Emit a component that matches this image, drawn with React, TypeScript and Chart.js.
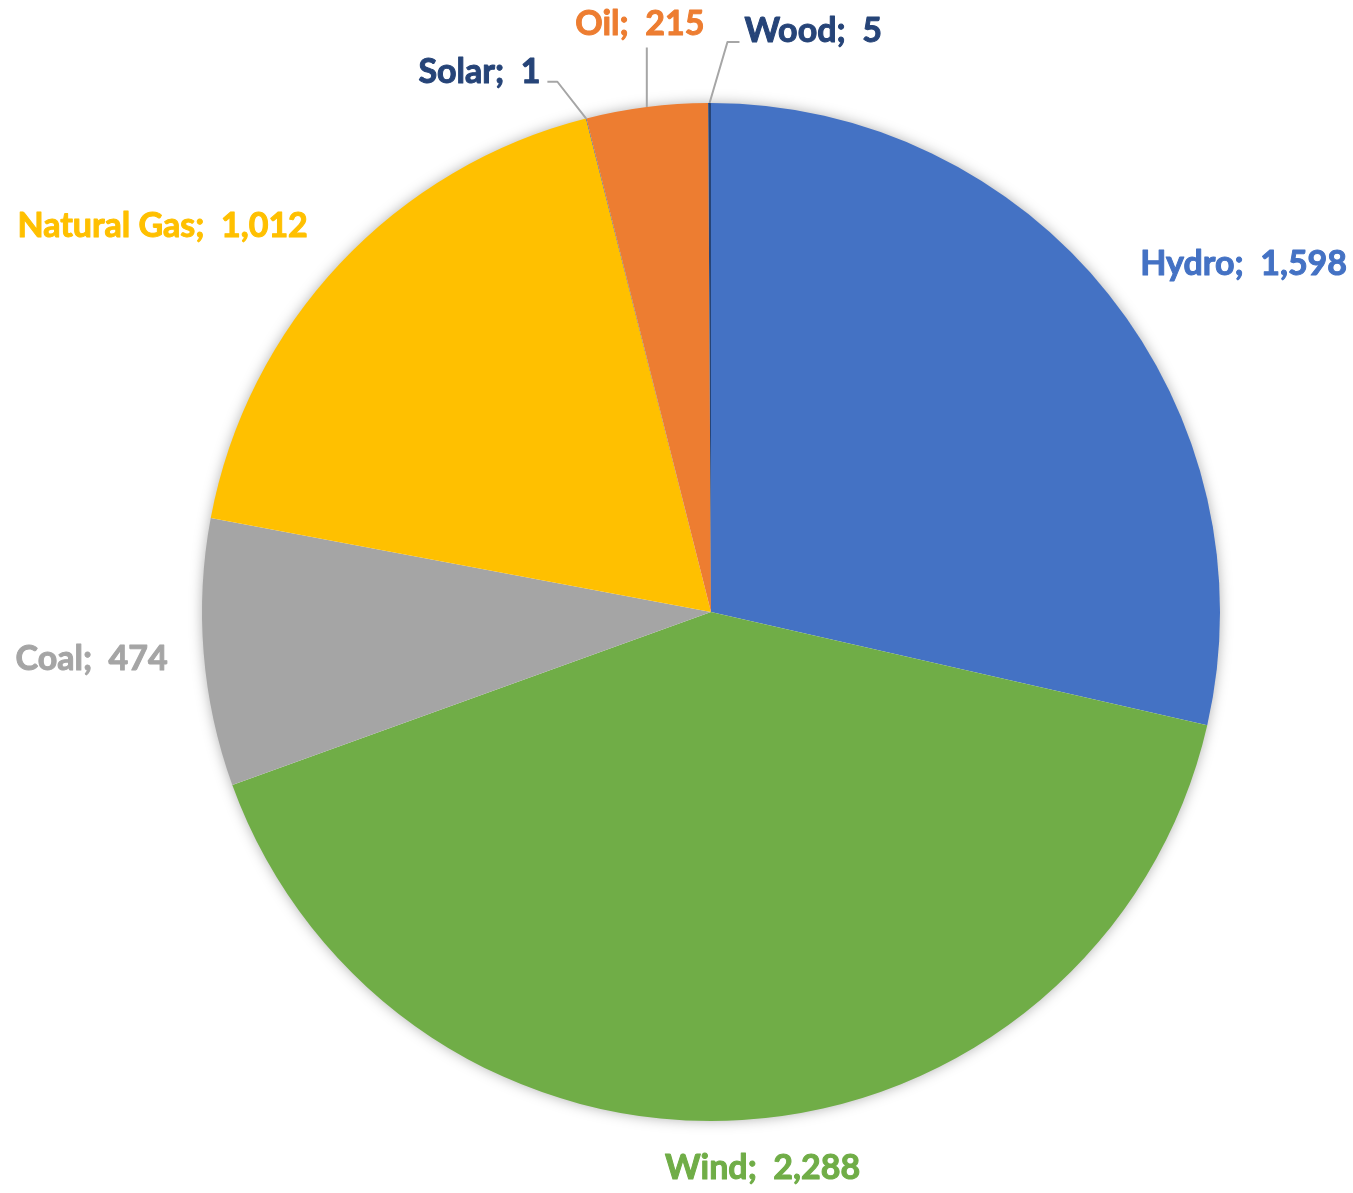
import React, { useEffect, useRef } from "react";
import { Chart, registerables } from "chart.js";

Chart.register(...registerables);

const categories = ["Hydro", "Wind", "Coal", "Natural Gas", "Solar", "Oil", "Wood"];
const values = [1598, 2288, 474, 1012, 1, 215, 5];
const sliceColors = ["#4472C4", "#70AD47", "#A5A5A5", "#FFC000", "#264478", "#ED7D31", "#264478"];
const labelColors = ["#4472C4", "#70AD47", "#A5A5A5", "#FFC000", "#264478", "#ED7D31", "#264478"];

// label placement (style): offset from point at (radius + gap) along slice mid-angle
const labelGap = 40;
const labelOffsets = [
  [0, -6],
  [18, 8],
  [4, 3],
  [-3, -10],
  [-36, -8],
  [-2, -43],
  [35, -32],
];
const labelAligns = ["left", "center", "right", "right", "right", "center", "left"];
// leader lines: [endDx, endDy, elbowDx] relative to label anchor
const leaders = [null, null, null, null, [7, 10, 10], [7, 23, 0], [-5, 11, -12]];

const W = 1353;
const H = 1193;
const FONT = "bold 34px Lato, 'Open Sans', sans-serif";

const shadowPlugin = {
  id: "pieShadow",
  beforeDatasetsDraw(chart: any) {
    const meta = chart.getDatasetMeta(0);
    const arc = meta.data[0];
    if (!arc) return;
    const { x, y, outerRadius } = arc.getProps(["x", "y", "outerRadius"], true);
    const ctx = chart.ctx;
    ctx.save();
    ctx.shadowColor = "rgba(0,0,0,0.35)";
    ctx.shadowBlur = 14;
    ctx.fillStyle = "#ffffff";
    ctx.beginPath();
    ctx.arc(x, y, outerRadius - 1, 0, Math.PI * 2);
    ctx.fill();
    ctx.restore();
  },
};

const labelPlugin = {
  id: "outsideLabels",
  afterDatasetsDraw(chart: any) {
    const meta = chart.getDatasetMeta(0);
    const ctx = chart.ctx;
    ctx.save();
    ctx.font = FONT;
    ctx.textBaseline = "middle";
    meta.data.forEach((arc: any, i: number) => {
      const { x, y, startAngle, endAngle, outerRadius } = arc.getProps(
        ["x", "y", "startAngle", "endAngle", "outerRadius"],
        true
      );
      const mid = (startAngle + endAngle) / 2;
      const c = Math.cos(mid);
      const s = Math.sin(mid);
      const px = x + c * (outerRadius + labelGap);
      const py = y + s * (outerRadius + labelGap);
      const lx = px + labelOffsets[i][0];
      const ly = py + labelOffsets[i][1];
      const ld = leaders[i];
      if (ld) {
        const ex = x + c * outerRadius;
        const ey = y + s * outerRadius;
        const endX = lx + ld[0];
        const endY = ly + ld[1];
        const elbowX = endX + ld[2];
        ctx.strokeStyle = "#A6A6A6";
        ctx.lineWidth = 2;
        ctx.beginPath();
        ctx.moveTo(ex, ey);
        ctx.lineTo(elbowX, endY);
        ctx.lineTo(endX, endY);
        ctx.stroke();
      }
      ctx.fillStyle = labelColors[i];
      ctx.strokeStyle = labelColors[i];
      ctx.lineWidth = 1;
      ctx.lineJoin = "round";
      ctx.textAlign = labelAligns[i];
      const text = `${categories[i]};  ${values[i].toLocaleString("en-US")}`;
      ctx.fillText(text, lx, ly);
      ctx.strokeText(text, lx, ly);
    });
    ctx.restore();
  },
};

export default function App() {
  const ref = useRef<HTMLCanvasElement>(null);
  useEffect(() => {
    if (!ref.current) return;
    const chart = new Chart(ref.current, {
      type: "pie",
      data: {
        labels: categories,
        datasets: [
          {
            data: values,
            backgroundColor: sliceColors,
            borderWidth: 0,
            hoverOffset: 0,
            offset: 0,
          },
        ],
      },
      options: {
        responsive: false,
        animation: false,
        layout: { padding: { left: 202, top: 103, right: 133, bottom: 72 } },
        plugins: {
          legend: { display: false },
          tooltip: { enabled: false },
        },
      },
      plugins: [shadowPlugin, labelPlugin],
    });
    return () => chart.destroy();
  }, []);
  return (
    <div style={{ position: "fixed", left: 0, top: 0, width: W, height: H, background: "#fff" }}>
      <canvas ref={ref} width={W} height={H} style={{ width: W, height: H, display: "block" }} />
    </div>
  );
}
